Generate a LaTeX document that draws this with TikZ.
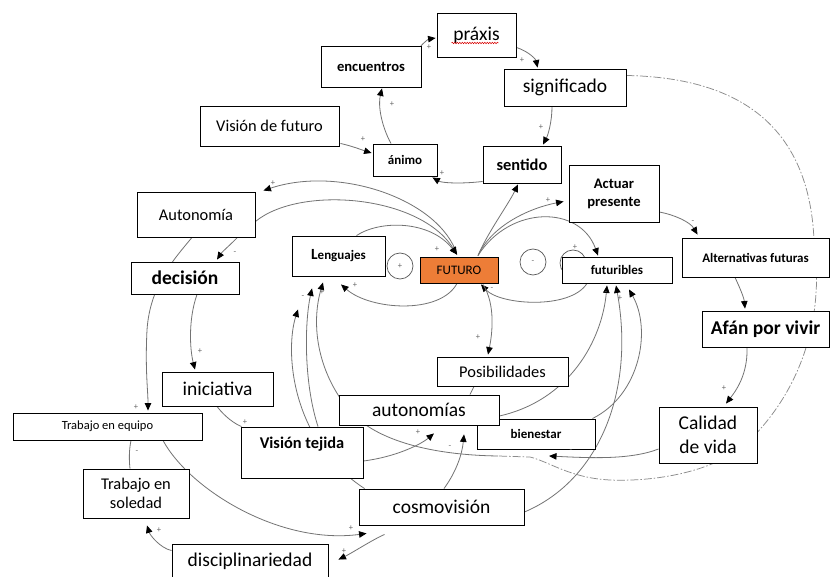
\documentclass[tikz,border=0pt]{standalone}
\usepackage{fontspec}
\setmainfont{Carlito}
\usetikzlibrary{arrows.meta,calc,backgrounds,decorations.pathmorphing}
\definecolor{futorange}{RGB}{237,125,55}
\newcommand\szXL{\fontsize{19.5}{23}\selectfont}
\newcommand\szXLc{\fontsize{19.5}{24}\selectfont}
\newcommand\szL{\fontsize{16.4}{19}\selectfont}
\newcommand\szMb{\fontsize{14.6}{18}\selectfont}
\newcommand\szS{\fontsize{13}{15}\selectfont}
\newcommand\szSS{\fontsize{12.5}{15}\selectfont}
\newcommand\szT{\fontsize{8.5}{9}\selectfont}
\begin{document}
\begin{tikzpicture}[x=1pt,y=-1pt,
  box/.style={draw=black,line width=0.9pt,fill=white,inner sep=0pt,align=center},
  link/.style={draw=black!55,line width=0.8pt,-{Triangle[length=7.5pt,width=6.5pt,color=black]}},
  plain/.style={draw=black!55,line width=0.8pt},
  faint/.style={draw=black!45,line width=0.75pt,dash pattern=on 8pt off 2pt on 1.5pt off 2pt},
  sgn/.style={text=black!60,font=\szT,inner sep=0pt},
  loopmark/.style={circle,draw=black!65,line width=0.7pt,minimum size=26pt,inner sep=0pt,fill=white,text=black!60,font=\szT}]
\path[use as bounding box] (0,0) rectangle (830,577);

% ---- variables ----
\node[box,minimum width=79pt,minimum height=44pt,font=\szXL] (praxis) at (476.5,35) {práxis};
\node[box,minimum width=100pt,minimum height=41pt,font=\bfseries\szMb] (enc) at (371,66.5) {encuentros};
\node[box,minimum width=122pt,minimum height=37pt,font=\szXL] (sig) at (565,87.5) {significado};
\node[box,minimum width=139pt,minimum height=40pt,font=\szL] (vdf) at (269.5,126) {Visión de futuro};
\node[box,minimum width=64pt,minimum height=32pt,font=\bfseries\szS] (animo) at (405,160) {ánimo};
\node[box,minimum width=78pt,minimum height=37pt,font=\bfseries\szL] (sent) at (522,164.5) {sentido};
\node[box,minimum width=90pt,minimum height=57pt,font=\bfseries\szMb] (act) at (614,193.5) {Actuar\\presente};
\node[box,minimum width=118pt,minimum height=45pt,font=\szL] (auto) at (196,214.5) {Autonomía};
\node[box,minimum width=93pt,minimum height=40pt,font=\bfseries\szS] (leng) at (338.5,256) {{\fontsize{15.5}{16}\selectfont L}enguajes};
\node[loopmark] (lp) at (400,266) {+};
\node[box,fill=futorange,minimum width=78pt,minimum height=26pt,font=\szS] (fut) at (459,270) {FUTURO};
\node[loopmark] (lm) at (533,262) {-};
\node[loopmark] (lh) at (573,263) {};
\node[box,minimum width=110pt,minimum height=26pt,font=\bfseries\szS] (futb) at (617,270) {futuribles};
\node[box,minimum width=147pt,minimum height=39pt,font=\bfseries\szS] (alt) at (755.5,257.5) {Alternativas futuras};
\node[box,minimum width=108pt,minimum height=32pt,font=\bfseries\szXL] (dec) at (185,278) {decisión};
\node[box,minimum width=127pt,minimum height=36pt,font=\bfseries\szXL] (afan) at (765.5,329) {Afán por vivir};
\node[box,minimum width=131pt,minimum height=29pt,font=\szL] (pos) at (502.5,371.5) {Posibilidades};
\node[box,minimum width=111pt,minimum height=34pt,font=\szXL] (ini) at (217.5,389) {iniciativa};
\node[box,minimum width=118pt,minimum height=30pt,font=\bfseries\szS] (bien) at (536,434) {bienestar};
\node[box,minimum width=160pt,minimum height=30pt,font=\szXL] (auts) at (419,410) {autonomías};
\node[box,minimum width=189pt,minimum height=27pt,font=\szSS] (teq) at (107.5,426.5) {Trabajo en equipo};
\node[box,minimum width=98pt,minimum height=56pt,font=\szXLc] (cal) at (708,435) {Calidad\\de vida};
\node[box,minimum width=122pt,minimum height=51pt,font=\bfseries\szL] (vt) at (302,452.5) {Visión tejida\\\mbox{}};
\node[box,minimum width=106pt,minimum height=49pt,font=\szL] (tsol) at (136,493.5) {Trabajo en\\soledad};
\node[box,minimum width=165pt,minimum height=36pt,font=\szXL] (cosm) at (441.5,507) {cosmovisión};
\node[box,minimum width=156pt,minimum height=34pt,font=\szXL] (disc) at (250,561) {disciplinariedad};

% spell-check squiggle under the word
\draw[red!85!black,line width=0.5pt,decorate,decoration={snake,amplitude=0.7pt,segment length=2.5pt}]
  ($(praxis.center)+(-25,8)$) -- ($(praxis.center)+(22,8)$);

% junction points of the lower loop
\coordinate (qa) at (549,456);
\coordinate (qb) at (498,456);

% ---- polarity signs ----
\node[sgn] (m1) at (429,47) {+};
\node[sgn] (m2) at (522,60) {+};
\node[sgn] (m3) at (541,127) {+};
\node[sgn] (m4) at (442,173) {+};
\node[sgn] (m5) at (392,104) {+};
\node[sgn] (m6) at (363,139) {+};
\node[sgn] (m7) at (548,200) {+};
\node[sgn] (m8) at (575,247) {+};
\node[sgn] (m9) at (273,183) {+};
\node[sgn] (m10) at (437,249) {+};
\node[sgn] (m11) at (355,285) {+};
\node[sgn] (m12) at (492,289) {-};
\node[sgn] (m13) at (478,337) {+};
\node[sgn] (m14) at (235,253) {-};
\node[sgn] (m15) at (136,407) {+};
\node[sgn] (m16) at (200,351) {+};
\node[sgn] (m17) at (245,422) {+};
\node[sgn] (m18) at (137,452) {-};
\node[sgn] (m19) at (351,528) {+};
\node[sgn] (m20) at (159,530) {+};
\node[sgn] (m21) at (344,551) {+};
\node[sgn] (m22) at (418,432) {+};
\node[sgn] (m23) at (450,447) {-};
\node[sgn] (m24) at (571,451) {-};
\node[sgn] (m25) at (322,292) {+};
\node[sgn] (m26) at (303,297) {-};
\node[sgn] (m27) at (606,293) {-};
\node[sgn] (m28) at (620,298) {+};
\node[sgn] (m29) at (693,222) {-};
\node[sgn] (m30) at (724,388) {+};

% ---- causal links ----
\begin{scope}[on background layer]
\fill[white] (0,0) rectangle (830,577);
% upper loop
\draw[link] ($(enc.north east)+(-2,2)$) .. controls (424,42) and (429,39) .. ($(praxis.west)+(-1,3)$);
\draw[link] ($(praxis.south east)+(0,-10)$) .. controls (530,52) and (536,60) .. ($(sig.north west)+(34,-1)$);
\draw[link] ($(sig.south)+(-13,0)$) .. controls (552,122) and (548,135) .. ($(sent.north)+(21,-1)$);
\draw[link] ($(sent.south west)+(0,-2)$) .. controls (462,184) and (442,183) .. ($(animo.south east)+(-5,1)$);
\draw[link] ($(animo.north)+(-14,0)$) .. controls (381,125) and (378,105) .. ($(enc.south)+(11,1)$);
\draw[link] ($(vdf.south east)+(1,-3)$) .. controls (352,146) and (362,150) .. ($(animo.west)+(-1,-7)$);
% from FUTURO upwards
\draw[link] ($(fut.north)+(19,-1)$) .. controls (488,232) and (508,205) .. ($(sent.south)+(-4,1)$);
\draw[link] ($(fut.north)+(19,-1)$) .. controls (492,225) and (530,208) .. ($(act.west)+(-5,8)$);
\draw[link] ($(fut.north)+(19,-1)$) .. controls (510,205) and (580,205) .. ($(futb.north)+(-19,-1)$);
\draw[link] ($(fut.north)+(-2,-2)$) .. controls (440,200) and (340,165) .. ($(auto.north east)+(8,-1)$);
\draw[link] ($(auto.east)+(0,7)$) .. controls (300,185) and (420,195) .. ($(fut.north)+(-2,-2)$);
\draw[link] ($(leng.north)+(18,0)$) .. controls (380,220) and (430,220) .. ($(fut.north)+(-2,-2)$);
% from FUTURO downwards
\draw[link] ($(fut.south)+(-2,0)$) .. controls (440,315) and (370,310) .. ($(leng.south)+(2.5,8)$);
\draw[link] ($(futb.south)+(-30,0)$) .. controls (570,310) and (500,305) .. ($(fut.south)+(22,1)$);
\draw[link] ($(fut.south)+(24,1)$) .. controls (496,305) and (492,335) .. ($(pos.north)+(-14.5,-2)$);
% left branch
\draw[link] ($(auto.south east)+(-18,0)$) .. controls (230,245) and (222,252) .. ($(dec.north)+(32,-2)$);
\draw[link] ($(auto.south)+(-4,0)$) .. controls (175,258) and (150,285) .. (147,330) .. controls (145,370) and (148,390) .. ($(teq.north)+(40.5,-2)$);
\draw[link] ($(dec.south)+(12,0)$) .. controls (188,320) and (190,350) .. ($(ini.north)+(-22.5,-2)$);
\draw[plain] ($(ini.south)+(-0.5,0)$) .. controls (225,417) and (235,424) .. ($(vt.north west)+(1,0)$);
\draw[plain] ($(teq.south)+(23.5,0)$) .. controls (129,450) and (129,460) .. ($(tsol.north)+(-6,0)$);
\draw[link] ($(teq.south)+(55.5,0)$) .. controls (190,490) and (280,545) .. ($(cosm.south west)+(8,8)$);
\draw[link] ($(disc.north west)+(0,7)$) .. controls (160,548) and (150,535) .. ($(tsol.south)+(11,7)$);
\draw[link] ($(cosm.south west)+(26,9)$) .. controls (372,540) and (352,553) .. ($(disc.north east)+(10,16)$);
% centre
\draw[link] ($(vt.east)+(0,8.5)$) .. controls (395,457) and (420,445) .. ($(auts.south)+(15,8)$);
\draw[link] ($(cosm.north)+(2.5,0)$) .. controls (456,472) and (462,455) .. ($(auts.south)+(45,9)$);
\draw[plain] ($(pos.south)+(-28.5,0)$) -- ($(auts.north)+(51,0)$);
\draw[link] ($(cal.west)+(0,14)$) .. controls (630,460) and (590,458) .. (qa);
\draw[link] (qb) .. controls (430,455) and (370,440) .. (345,405) .. controls (315,365) and (312,320) .. ($(leng.south)+(-15.5,6)$);
\draw[link] ($(vt.north)+(16,0)$) .. controls (303,380) and (305,320) .. ($(leng.south)+(-26.5,12)$);
\draw[link] ($(cosm.north west)+(6,0)$) .. controls (290,440) and (285,350) .. ($(leng.south)+(-40.5,33)$);
% into futuribles
\draw[link] ($(auts.east)+(0,6)$) .. controls (570,400) and (602,340) .. ($(futb.south)+(-10,2)$);
\draw[link] ($(cosm.east)+(0,5)$) .. controls (600,480) and (635,390) .. ($(futb.south)+(-1,2)$);
\draw[link] ($(bien.north east)+(-3,0)$) .. controls (640,395) and (652,330) .. ($(futb.south)+(12,6)$);
% right branch
\draw[link] ($(act.east)+(0,18.5)$) .. controls (675,215) and (690,222) .. ($(alt.north west)+(16,-3)$);
\draw[link] ($(alt.south)+(-20.5,0)$) .. controls (740,288) and (744,298) .. ($(afan.north)+(-20.5,-2)$);
\draw[link] ($(afan.south)+(-18.5,0)$) .. controls (748,375) and (735,392) .. ($(cal.north)+(18,-3)$);
% long outer loop
\draw[faint] ($(sig.east)+(0,-12)$) .. controls (765,78) and (810,150) .. (814,240)
  .. controls (825,320) and (800,390) .. (750,440) .. controls (720,470) and (660,482) .. (610,480)
  .. controls (570,478) and (550,462) .. (530,457) -- (qb);
\end{scope}
\end{tikzpicture}
\end{document}
